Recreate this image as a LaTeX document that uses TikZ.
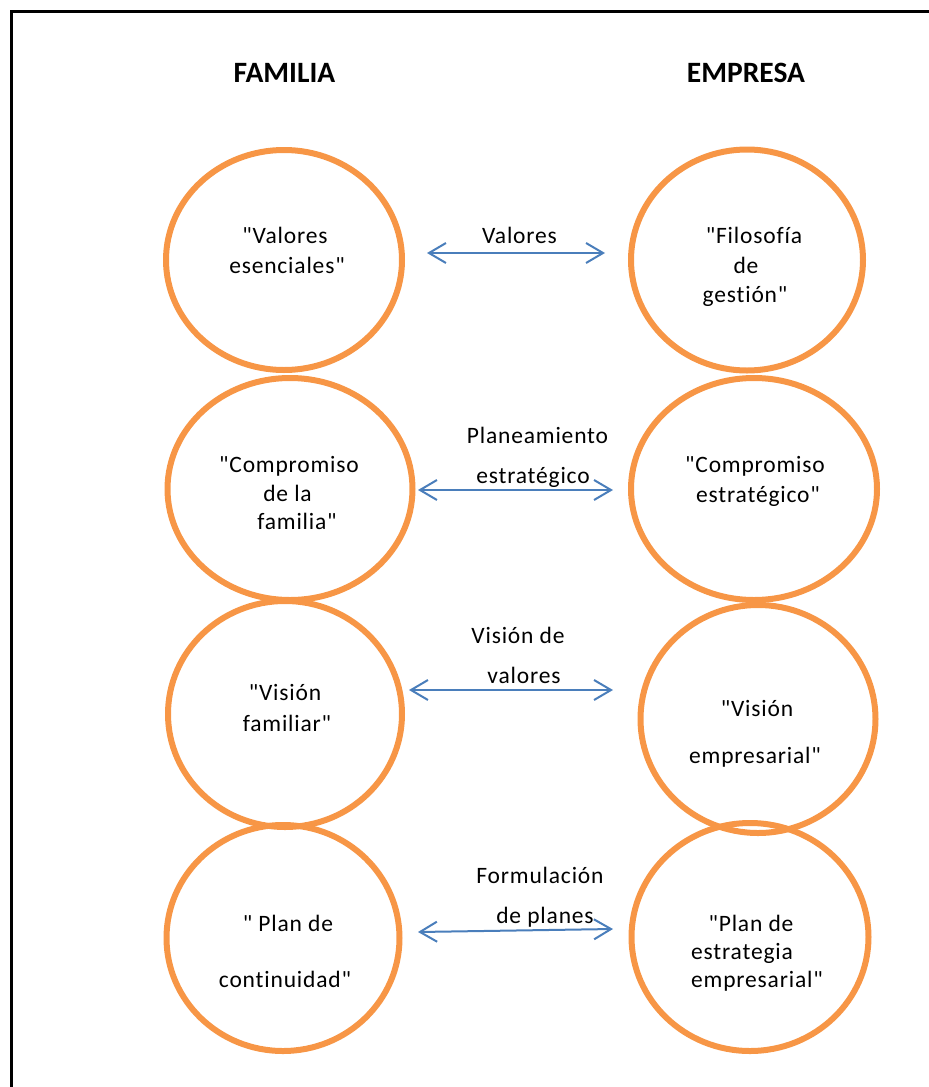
\documentclass[tikz,border=0pt]{standalone}
\usepackage{fontspec}
\setmainfont{Carlito}
\newfontfamily\bodyfont{Carlito}[LetterSpace=3.5, Ligatures={NoCommon,NoContextual}]
\usetikzlibrary{shapes.geometric,arrows.meta}
\definecolor{ringorange}{HTML}{F79646}
\definecolor{linkblue}{HTML}{4A7EBB}

\begin{document}
\begin{tikzpicture}[x=1pt,y=-1pt,
  ring/.style={draw=ringorange, line width=6pt, ellipse, inner sep=0pt},
  txt/.style={anchor=base, inner sep=0pt, font=\bodyfont\fontsize{23.5}{28}\selectfont},
  head/.style={anchor=base, inner sep=0pt, font=\bfseries\fontsize{29.5}{35}\selectfont},
  link/.style={draw=linkblue, line width=2pt,
    {Straight Barb[length=17pt,width=20pt]}-{Straight Barb[length=17pt,width=20pt]}},
]
\useasboundingbox (0,0) rectangle (929,1087);

% outer frame (left and top edges)
\coordinate (frbl) at (11,1090);
\coordinate (frtl) at (11,11);
\coordinate (frtr) at (932,11);
\draw[line width=3pt] (frbl) -- (frtl) -- (frtr);

% column headings
\node[head] (hfam) at (284.5,82) {FAMILIA};
\node[head] (hemp) at (746,82) {EMPRESA};

% rings
\node[ring, minimum width=236pt, minimum height=220pt] (f1) at (284,260) {};
\node[ring, minimum width=232pt, minimum height=221pt] (e1) at (747,260) {};
\node[ring, minimum width=245pt, minimum height=222pt] (f2) at (290,489) {};
\node[ring, minimum width=246pt, minimum height=222pt] (e2) at (754,489) {};
\node[ring, minimum width=234pt, minimum height=226pt] (f3) at (285,714) {};
\node[ring, minimum width=235pt, minimum height=228pt] (e3) at (758,719) {};
\node[ring, minimum width=233pt, minimum height=226pt] (f4) at (283,938) {};
\node[ring, minimum width=237pt, minimum height=228pt] (e4) at (750,937) {};

% ring texts
\node[txt] (f1a) at (285,243) {"Valores};
\node[txt] (f1b) at (287,273) {esenciales"};
\node[txt] (e1a) at (754,243) {"Filosofía};
\node[txt] (e1b) at (746,273) {de};
\node[txt] (e1c) at (745,302) {gestión"};
\node[txt] (f2a) at (289,472) {"Compromiso};
\node[txt] (f2b) at (287.5,501) {de la};
\node[txt] (f2c) at (297,529) {familia"};
\node[txt] (e2a) at (755,472) {"Compromiso};
\node[txt] (e2b) at (758,502) {estratégico"};
\node[txt] (f3a) at (285,700) {"Visión};
\node[txt] (f3b) at (287,731) {familiar"};
\node[txt] (e3a) at (757,716) {"Visión};
\node[txt] (e3b) at (755,763) {empresarial"};
\node[txt] (f4a) at (288,931) {" Plan de};
\node[txt] (f4b) at (285,987) {continuidad"};
\node[txt] (e4a) at (751,931) {"Plan de};
\node[txt, anchor=base west] (e4b) at (691,959) {estrategia};
\node[txt, anchor=base west] (e4c) at (691,987) {empresarial"};

% links between the columns
\coordinate (l1a) at (427,253); \coordinate (l1b) at (605,253);
\coordinate (l2a) at (418,490); \coordinate (l2b) at (613,490);
\coordinate (l3a) at (409,690); \coordinate (l3b) at (613,690);
\coordinate (l4a) at (418,932); \coordinate (l4b) at (613,929);
\draw[link] (l1a) -- (l1b);
\draw[link] (l2a) -- (l2b);
\draw[link] (l3a) -- (l3b);
\draw[link] (l4a) -- (l4b);

% link labels
\node[txt] (k1) at (519.5,243) {Valores};
\node[txt] (k2a) at (537.5,443) {Planeamiento};
\node[txt] (k2b) at (533,483) {estratégico};
\node[txt] (k3a) at (518,643) {Visión de};
\node[txt] (k3b) at (524,683) {valores};
\node[txt] (k4a) at (540,883) {Formulación};
\node[txt] (k4b) at (545,923) {de planes};
\end{tikzpicture}
\end{document}
